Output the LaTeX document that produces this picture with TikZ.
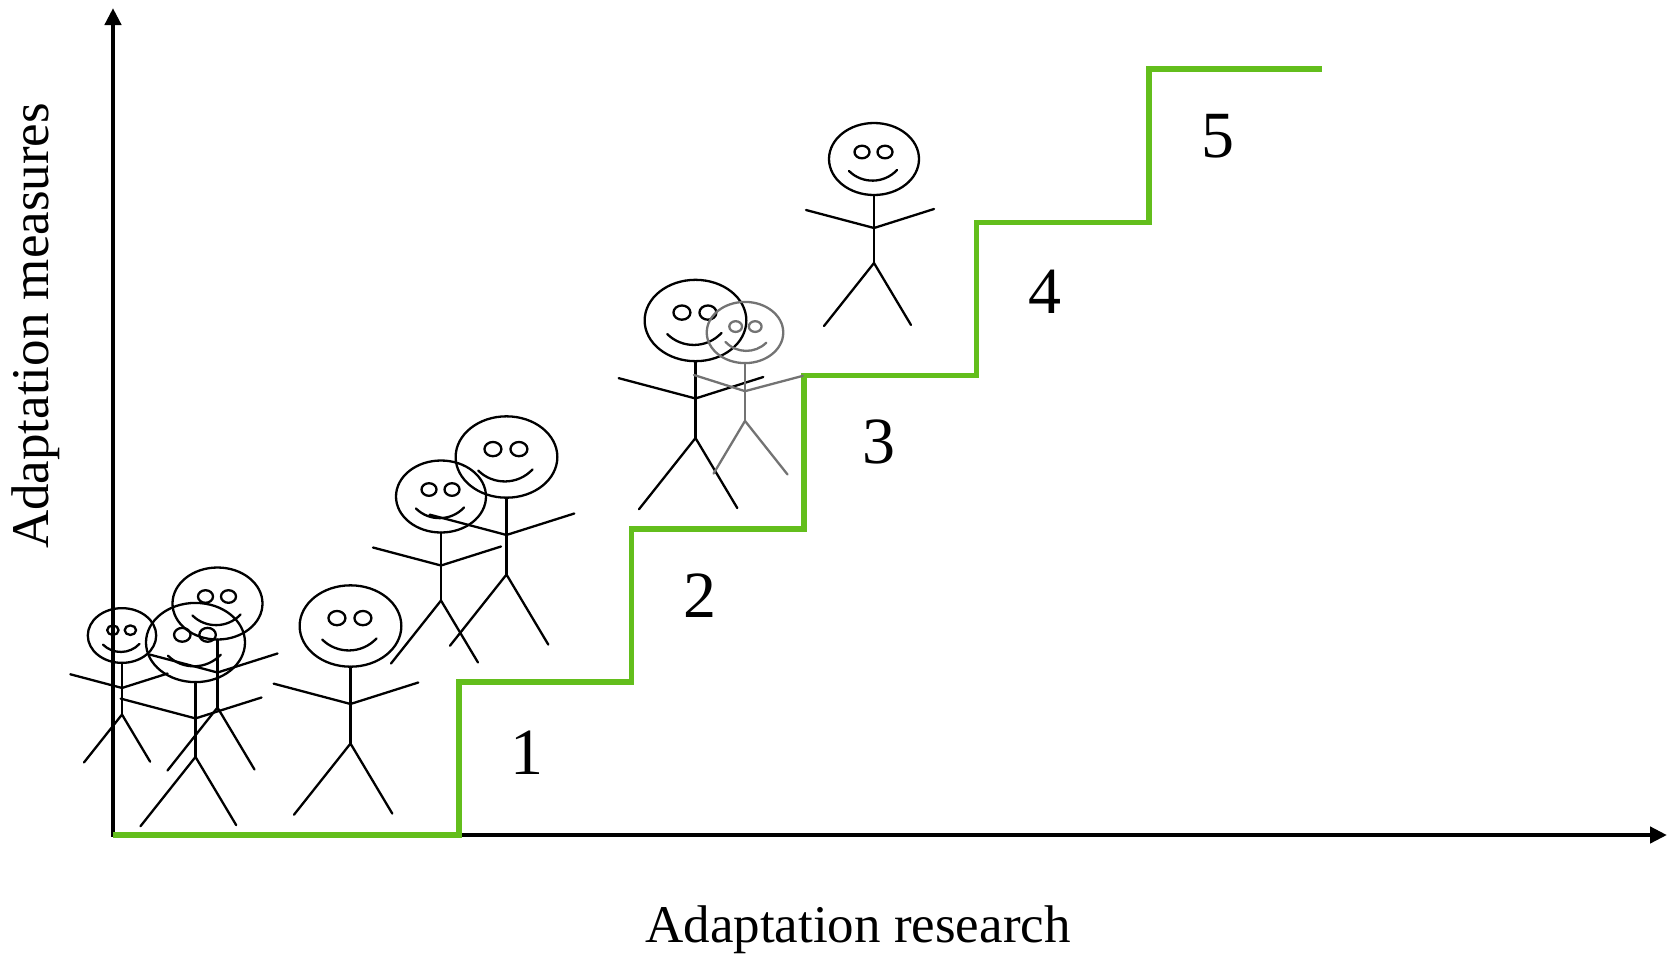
\documentclass[tikz,border=0pt]{standalone}
\usepackage{fontspec}
\setmainfont{Liberation Serif}
\usetikzlibrary{arrows.meta}
\definecolor{stairgreen}{RGB}{99,190,28}
\begin{document}
\begin{tikzpicture}[x=1pt,y=-1pt,
  axis/.style={line width=4.5pt, line join=miter,
    {Triangle[length=17pt,width=16pt]}-{Triangle[length=17pt,width=16pt]}},
  stair/.style={line width=5.5pt, stairgreen, line join=miter},
  limb/.style={line width=2.3pt, line cap=round, line join=round},
  axislabel/.style={font=\fontsize{53}{60}\selectfont, inner sep=0pt},
  steplabel/.style={font=\fontsize{66}{72}\selectfont, inner sep=0pt},
  stickman/.pic={
    % head, eyes and smile
    \draw[limb] (0,0) ellipse [x radius=45pt, y radius=36pt];
    \draw[limb] (-12,-7) ellipse [x radius=7.5pt, y radius=6.3pt];
    \draw[limb] (11,-7) ellipse [x radius=7.5pt, y radius=6.3pt];
    \draw[limb] (-25,12) .. controls (-12,25) and (10,25) .. (23,11);
    % body, arms and legs
    \draw[limb] (0,36) -- (0,104);
    \draw[limb] (-68,51) -- (0,69) -- (60,50);
    \draw[limb] (-50,167) -- (0,104) -- (37,166);
  }]
\useasboundingbox (0,0) rectangle (1676,954);

% axes
\coordinate (origin) at (113,835);
\coordinate (ytip) at (113,8);
\coordinate (xtip) at (1667,835);
\draw[axis] (ytip) -- (origin) -- (xtip);

% staircase
\coordinate (s1) at (459,682);
\coordinate (s2) at (631.5,528.75);
\coordinate (s3) at (804,375.5);
\coordinate (s4) at (976.5,222.25);
\coordinate (s5) at (1149,69);
\coordinate (stairend) at (1322,69);
\draw[stair] (origin) -- (s1 |- origin) -- (s1) -- (s2 |- s1) -- (s2)
  -- (s3 |- s2) -- (s3) -- (s4 |- s3) -- (s4) -- (s5 |- s4) -- (s5) -- (stairend);

% step numbers
\node[steplabel] (n1) at (527,753) {1};
\node[steplabel] (n2) at (700,596) {2};
\node[steplabel] (n3) at (879,442) {3};
\node[steplabel] (n4) at (1045,292) {4};
\node[steplabel] (n5) at (1218,136) {5};

% people climbing
\pic[scale=0.76] (manA) at (122,635.5) {stickman};
\pic (manB) at (217.5,603.5) {stickman};
\pic[scale=1.1] (manC) at (195.5,642.5) {stickman};
\pic[scale=1.13] (manD) at (350.5,626) {stickman};
\pic (manE) at (441,496.5) {stickman};
\pic[scale=1.13] (manF) at (506.5,457) {stickman};
\pic[scale=1.13] (manG) at (695.5,320.5) {stickman};
\pic[xscale=-0.85, yscale=0.85, color=black!55] (manH) at (745,332.5) {stickman};
\pic (manI) at (874,159) {stickman};

% axis labels
\node[axislabel] (xlabel) at (858,930) {Adaptation research};
\node[axislabel, rotate=90] (ylabel) at (36,326) {Adaptation measures};
\end{tikzpicture}
\end{document}
